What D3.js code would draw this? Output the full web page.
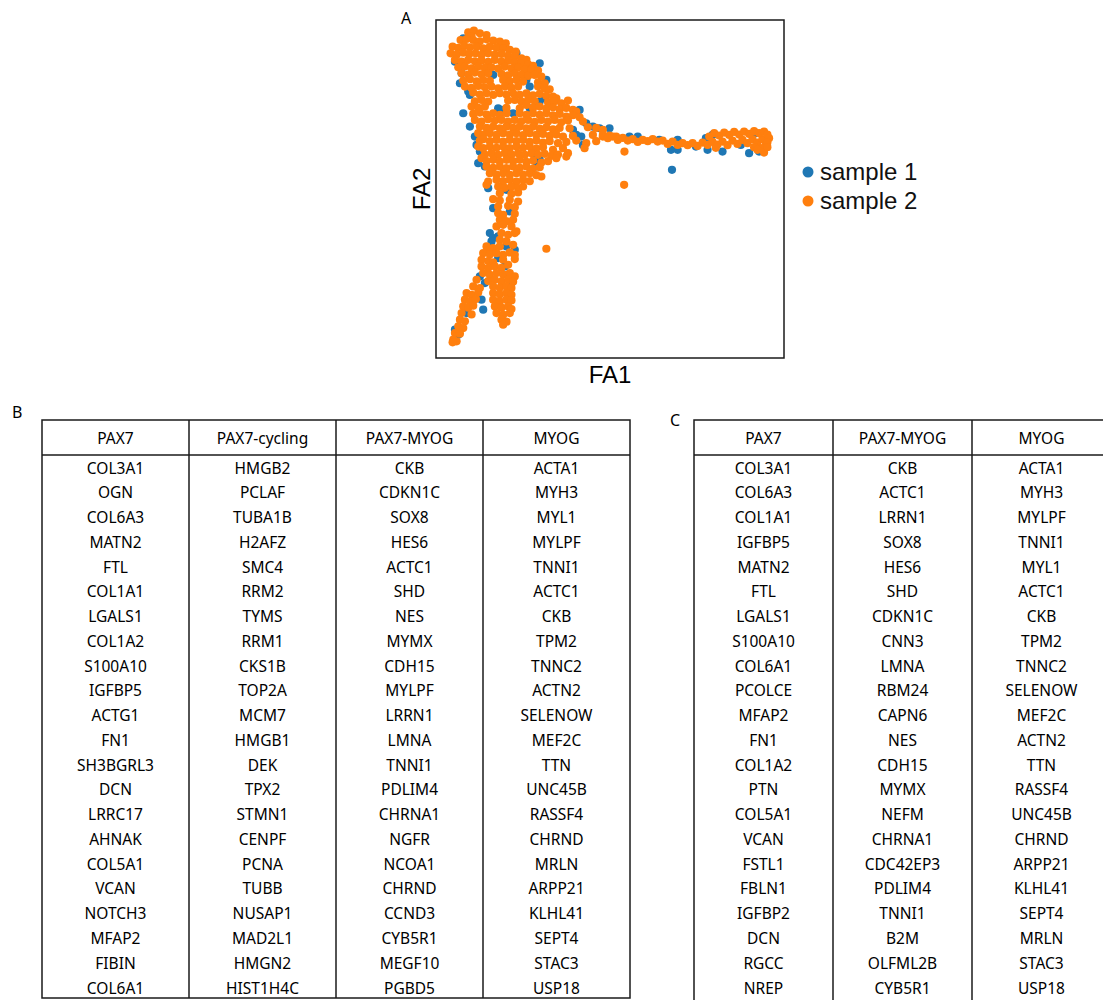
<!DOCTYPE html>
<html>
<head>
<meta charset="utf-8">
<script src="https://cdn.jsdelivr.net/npm/d3@7"></script>
<style>
  html, body { margin: 0; padding: 0; background: #fff; }
  svg { display: block; }
</style>
</head>
<body>
<div id="fig"></div>
<script>
/* FA embedding of two samples (A) + top marker genes per cluster (B, C) */

// ── scatter data: [FA1, FA2] per cell ─────────────────────────────────
const sample1 = [
  [10,94.5],[7.5,87.5],[9.5,84],[9,81],[11.5,78.5],[12,77.5],[19,83.5],[29,82],[30,80],[33,87],
  [35,82],[20.5,73.5],[21.5,73],[33,75.5],[34.5,76.5],[30,73.5],[25,72],[15,60.5],[14.5,57],[16.5,56],
  [33,58],[32,56],[31,60],[17.5,49.5],[23,49],[19,43.5],[24,42.5],[18,36],[19,34.5],[20.5,35],
  [18.5,33.5],[23,32],[25.5,31],[20.5,28.5],[22.5,26],[15,23],[16.5,21],[24.5,21],[15.5,16],[16,13],
  [11,12],[7.5,7],[8.5,5.5],[44,65.5],[43,67],[45,73],[47,69],[49,68],[51,67.5],[54,67.5],
  [45.5,65],[46,62.5],[60,65],[62.5,65],[69,64],[74.5,64],[74.5,61],[80,62],[83,64.5],[85,65.5],
  [88,60.5],[93.5,62.5],[96,60],[99,60.5],[98,66],[83.5,61],[72.5,61],[72.8,55],[13.5,65],[14,62.5],
  [26,90],[22,92.5],[10,72],[12,68]
];

const sample2 = [
  // upper blob
  [11.5,96.3],[13.2,96.8],[15,96],[12.5,95.2],[17,95.5],
  [9.2,94],[11,94.3],[13,94],[15,93.6],[17,94.2],[19,93.8],[21,93.5],[22.8,93],
  [6.8,92],[8.5,91.6],[10.3,92.2],[12,91.8],[14,92],[16,91.5],[18,92],[20,91.7],[22,91.5],[24,91],[25.8,90.5],
  [6.2,90],[8,89.6],[10,90.2],[11.8,89.8],[13.7,90],[15.5,89.5],[17.5,90],[19.5,89.6],[21.5,89.8],[23.5,89.3],[25.5,89],[27.5,88.5],[29,88],
  [7.5,88],[9.5,87.5],[11.5,88],[13.5,87.6],[15.5,87.8],[17.5,87.4],[19.5,88],[21.5,87.5],[23.5,87.8],[25.5,87.2],[27.5,87],[29.5,86.7],[31,86.2],
  [8.5,85.8],[10.5,86],[12.5,85.5],[14.5,86],[16.5,85.6],[18.5,85.8],[20.5,85.4],[22.5,86],[24.5,85.5],[26.5,85.7],[28.5,85.2],[30.5,85],[32.5,84.8],
  [9.5,84],[11.5,83.6],[13.5,84.2],[15.5,83.7],[17.5,84],[21.5,83.8],[23.5,83.4],[25.5,84],[27.5,83.5],[29.5,83.2],[31.5,83.5],[33.5,83],
  [10,81.8],[12,82.2],[14,81.6],[16,82],[18,81.7],[22,82],[24,81.6],[26,82],[28,81.5],[32.5,81.3],[34.5,81],
  [10.5,80],[12.5,79.6],[14.5,80.2],[16.5,79.8],[18.5,80],[20.5,79.5],[22.5,80],[24.5,79.6],[26.5,80],[32.5,80],[34.5,79.5],[36,79.2],
  [13,78.2],[15,77.6],[17,78],[19,77.5],[21,78],[23,77.6],[25,78],[27,77.5],[29,78],[31,77.4],[33,77.8],[35,77.2],[37,77],[38,76.5],
  [13.5,75.6],[15.5,76],[17.5,75.5],[23.5,75.8],[25.5,76],[27.5,75.5],[29.5,76],[31.5,75.6],[35.5,75.3],[37.5,75.6],[39.5,75],[41.5,75.8],
  [12.5,74],[14.5,73.6],[16.5,74],[23,73.6],[27,73.5],[29,74.5],[31,73.6],[33,74],[35,73.4],[37,73.8],[39,73.2],[41,73.6],[43,73],[44,72.5],
  [13,71.8],[15,72.2],[17,71.6],[19,72],[21,71.5],[23,72],[27,72],[29,71.5],[31,72],[33,71.5],[35,72],[37,71.4],[39,71.8],[41,71],[43,71.4],[45,70.8],
  [13.5,70],[15.5,69.5],[17.5,70.2],[19.5,69.8],[21.5,70],[23.5,69.5],[25.5,70],[27.5,69.6],[29.5,70],[31.5,69.4],[33.5,70],[35.5,69.5],[37.5,70],[39.5,69.3],[41.5,69.8],[46,69.5],
  [15,68],[17,67.6],[19,68],[21,67.5],[23,68],[25,67.6],[27,68],[29,67.5],[31,68],[33,67.4],[35,67.8],[37,67.2],[39,67.6],[42,67.5],[47.5,67.8],[50,67.6],[52,67],
  [14.5,66],[16,65.6],[18,66],[20,65.5],[22,66],[24,65.6],[26,66],[28,65.4],[30,66],[32,65.5],[34,65.8],[36,65.2],[38,65.6],[40,65],[43,65.2],[49,65.5],[52,65],[54,65.3],[56,65],
  [15,63.8],[16,64.2],[18,63.6],[20,64],[22,63.5],[24,64],[26,63.6],[28,64],[30,63.4],[32,63.8],[34,63.2],[36,63.6],[38.5,63],[41,63.4],[44,63.8],[47,63],[50,63.6],
  [14.5,62],[16,61.5],[18,62],[20,61.6],[22,62],[24,61.5],[26,62],[28,61.6],[30,62],[32,61.4],[34,61.8],[37,61],[40,61.5],[41,59],[46.5,61.5],
  [16.5,59.6],[18.5,60],[20.5,59.5],[22.5,60],[24.5,59.6],[26.5,60],[28.5,59.5],[30.5,60],[32.5,59.5],[34.5,59.8],[36.5,59.2],[38.5,59.6],[41.5,60],[38,58.5],
  [15.5,58.5],[17,57.6],[19,58],[21,57.5],[23,58],[25,57.6],[27,58],[29,57.4],[31,57.8],[33.5,57.2],[35.5,57.6],
  [17,56],[19,55.6],[21,56],[23,55.5],[25,56],[27,55.6],[29,56],[31,55.4],[33,55.8],
  [18,54],[20,53.6],[22,54],[24,53.5],[26,54],[28,53.6],[30,54],[32,53.4],[33.5,53],
  [17.5,51.5],[20,52],[22,51.6],[24,52],[26,51.5],[28,52],[30,51.6],[17,50.5],
  [20.5,50],[22.5,49.6],[24.5,50],[26.5,49.5],[28,50],
  // stem
  [21,48],[24.5,47.8],[26.5,48.2],
  [19,46.2],[21,45.8],[24,46],[26.5,45.5],
  [20.5,44],[23.5,44.2],[25.5,43.8],
  [20.5,42],[22,41.5],[25.5,41.8],
  [21,40],[23,39.6],[25,40],[22,38.5],
  [20,38],[24.5,38],[26,36.5],
  [21.5,36],[23.5,35.5],[25.5,36],
  [21,34],[23,33.5],
  // lower blob
  [17,32],[19,31.5],[21,32],[25,32.5],[18,31],
  [16,30],[18,29.6],[20,30],[22,29.5],[24,30.2],[25.5,29.5],
  [15.5,28],[17.5,27.6],[19,27.2],[22,28],[25.5,28.2],
  [15.5,26],[17.5,25.5],[19.5,26],[21.5,25.6],[23.5,26.5],
  [16,24],[18,23.5],[20,24],[22,23.6],[24,24],[25.5,23],
  [14,22],[17.5,21.6],[19.5,22],[21.5,21.5],[23.5,22],[25,21.4],
  [13,20],[15,19.5],[19,20],[21,19.6],[23,20],[24.5,19.5],
  [11,18],[12.5,17.5],[14.5,18.2],[19,18],[21,17.6],[23,18],[24.5,17.5],
  [10.5,16],[12,15.5],[13.8,16.2],[19,16],[21,15.5],[23,16],[24.5,15.8],
  [10,14],[11.5,13.6],[13,14.2],[19.5,14],[21.5,13.6],[23.5,14],[24.5,13.2],
  [9.5,12],[12.5,11.6],[20,12],[22,11.5],[24,12],
  [9,10],[10.5,9.5],[21.5,10],[23,9.4],[22,8.5],
  [8.5,8],[10,7.5],
  [7.5,6],[9,5.8],
  [7,4],[8,3.5],[6.8,3.2],
  // right arm
  [52,65.5],[53.5,64.5],[55,65],[56.5,64],[58,64.6],[59.5,63.8],[61,64.2],[62.5,63.4],[64,64],[65.5,63.6],
  [67,64.2],[68.5,63.5],[70,63.8],[71.5,62.8],[73,63.5],[74.5,62.5],[76,63],[77.5,62.4],[79,63],[80.5,62.2],
  [82,63.2],[83.5,62.5],[85,63.4],[86.5,62.6],[88,63.5],[89.5,62.4],[91,63.8],[92.5,62.8],[94,64],[95.5,63],
  [97,64.2],[98.5,63.2],[100,64.2],[101,62.6],[99,61.4],[97.5,61.8],[86,61.6],[58.5,60.5],
  [84,65],[85.5,66],[87,65.3],[88.5,66.2],[90,65.5],[91.5,66.4],[93,65.6],[94.5,66.5],[96,65.8],[97.5,66.6],
  [99,66],[100.5,66.5],[101.5,65.6],[102,64.5],[101.5,63.2],[100,61.5],[98.5,61],[100.5,60.2],[101.5,61.8],
  // stray cells
  [58.4,50.5],[35,31.3]
];

const seriesNames  = ['sample 1', 'sample 2'];
const seriesColors = ['#1f77b4', '#ff7f0e'];

// ── table B: top genes per cluster, sample 1 ──────────────────────────
const colsB = ['PAX7', 'PAX7-cycling', 'PAX7-MYOG', 'MYOG'];
const pax7B = ['COL3A1','OGN','COL6A3','MATN2','FTL','COL1A1','LGALS1','COL1A2','S100A10','IGFBP5','ACTG1',
  'FN1','SH3BGRL3','DCN','LRRC17','AHNAK','COL5A1','VCAN','NOTCH3','MFAP2','FIBIN','COL6A1'];
const cyclingB = ['HMGB2','PCLAF','TUBA1B','H2AFZ','SMC4','RRM2','TYMS','RRM1','CKS1B','TOP2A','MCM7',
  'HMGB1','DEK','TPX2','STMN1','CENPF','PCNA','TUBB','NUSAP1','MAD2L1','HMGN2','HIST1H4C'];
const pax7myogB = ['CKB','CDKN1C','SOX8','HES6','ACTC1','SHD','NES','MYMX','CDH15','MYLPF','LRRN1',
  'LMNA','TNNI1','PDLIM4','CHRNA1','NGFR','NCOA1','CHRND','CCND3','CYB5R1','MEGF10','PGBD5'];
const myogB = ['ACTA1','MYH3','MYL1','MYLPF','TNNI1','ACTC1','CKB','TPM2','TNNC2','ACTN2','SELENOW',
  'MEF2C','TTN','UNC45B','RASSF4','CHRND','MRLN','ARPP21','KLHL41','SEPT4','STAC3','USP18'];

// ── table C: top genes per cluster, sample 2 ──────────────────────────
const colsC = ['PAX7', 'PAX7-MYOG', 'MYOG'];
const pax7C = ['COL3A1','COL6A3','COL1A1','IGFBP5','MATN2','FTL','LGALS1','S100A10','COL6A1','PCOLCE','MFAP2',
  'FN1','COL1A2','PTN','COL5A1','VCAN','FSTL1','FBLN1','IGFBP2','DCN','RGCC','NREP'];
const pax7myogC = ['CKB','ACTC1','LRRN1','SOX8','HES6','SHD','CDKN1C','CNN3','LMNA','RBM24','CAPN6',
  'NES','CDH15','MYMX','NEFM','CHRNA1','CDC42EP3','PDLIM4','TNNI1','B2M','OLFML2B','CYB5R1'];
const myogC = ['ACTA1','MYH3','MYLPF','TNNI1','MYL1','ACTC1','CKB','TPM2','TNNC2','SELENOW','MEF2C',
  'ACTN2','TTN','RASSF4','UNC45B','CHRND','ARPP21','KLHL41','SEPT4','MRLN','STAC3','USP18'];

// ── layout ─────────────────────────────────────────────────────────────
const W = 1103, H = 1000;
const LABEL_FONT = '"Liberation Sans", Arial, sans-serif';
const TABLE_FONT = '"Noto Sans", "Open Sans", sans-serif';

const svg = d3.select('#fig').append('svg')
  .attr('width', W).attr('height', H);

/* ── A: scatter ─────────────────────────────────────────────── */
const box = { x0: 436, x1: 784, y0: 20, y1: 358 };

const x = d3.scaleLinear().domain([1.8, 106.5]).range([box.x0, box.x1]);
const y = d3.scaleLinear().domain([-1.5, 100]).range([box.y1, box.y0]);

const plotG = svg.append('g');

[sample1, sample2].forEach((pts, i) => {
  plotG.append('g').selectAll('circle')
    .data(pts)
    .join('circle')
    .attr('cx', d => x(d[0]))
    .attr('cy', d => y(d[1]))
    .attr('r', 4.1)
    .attr('fill', seriesColors[i]);
});

svg.append('rect')
  .attr('x', box.x0).attr('y', box.y0)
  .attr('width', box.x1 - box.x0).attr('height', box.y1 - box.y0)
  .attr('fill', 'none').attr('stroke', '#1a1a1a').attr('stroke-width', 1.5);

svg.append('text')
  .attr('x', (box.x0 + box.x1) / 2).attr('y', 383)
  .attr('text-anchor', 'middle')
  .attr('font-family', LABEL_FONT).attr('font-size', 24)
  .text('FA1');

svg.append('text')
  .attr('transform', `translate(430,${(box.y0 + box.y1) / 2}) rotate(-90)`)
  .attr('text-anchor', 'middle')
  .attr('font-family', LABEL_FONT).attr('font-size', 24)
  .text('FA2');

// legend
const legend = svg.append('g').attr('transform', 'translate(808,172)');
seriesNames.forEach((name, i) => {
  const g = legend.append('g').attr('transform', `translate(0,${i * 29})`);
  g.append('circle').attr('r', 5.5).attr('fill', seriesColors[i]);
  g.append('text')
    .attr('x', 12).attr('y', 8)
    .attr('font-family', LABEL_FONT).attr('font-size', 24)
    .attr('fill', '#111')
    .text(name);
});

/* ── panel letters ──────────────────────────────────────────── */
[['A', 401, 24], ['B', 12, 418], ['C', 670, 426]].forEach(([t, lx, ly]) => {
  svg.append('text')
    .attr('x', lx).attr('y', ly)
    .attr('font-family', TABLE_FONT).attr('font-size', 16)
    .text(t);
});

/* ── B, C: gene tables ──────────────────────────────────────── */
const HEAD_H = 35;
const ROW_FIRST = 468, ROW_LAST = 988;

function drawTable(headers, columns, left, right, top, bottom) {
  const g = svg.append('g');
  const nRows = columns[0].length;

  const cx = d3.scaleBand().domain(headers).range([left, right]);
  const ry = d3.scaleLinear().domain([0, nRows - 1]).range([ROW_FIRST, ROW_LAST]);

  // frame + lines
  g.append('rect')
    .attr('x', left).attr('y', top)
    .attr('width', right - left).attr('height', bottom - top)
    .attr('fill', 'none').attr('stroke', '#1a1a1a').attr('stroke-width', 1.5);
  g.append('line')
    .attr('x1', left).attr('x2', right)
    .attr('y1', top + HEAD_H).attr('y2', top + HEAD_H)
    .attr('stroke', '#1a1a1a').attr('stroke-width', 1.5);
  g.selectAll('line.col')
    .data(headers.slice(1))
    .join('line').attr('class', 'col')
    .attr('x1', d => cx(d)).attr('x2', d => cx(d))
    .attr('y1', top).attr('y2', bottom)
    .attr('stroke', '#1a1a1a').attr('stroke-width', 1.5);

  // header text
  g.selectAll('text.head')
    .data(headers)
    .join('text').attr('class', 'head')
    .attr('x', d => cx(d) + cx.bandwidth() / 2)
    .attr('y', top + HEAD_H / 2 + 6)
    .attr('text-anchor', 'middle')
    .attr('font-family', TABLE_FONT).attr('font-size', 15.5)
    .attr('fill', '#000')
    .text(d => d);

  // gene cells
  headers.forEach((h, ci) => {
    g.append('g').selectAll('text')
      .data(columns[ci])
      .join('text')
      .attr('x', cx(h) + cx.bandwidth() / 2)
      .attr('y', (d, i) => ry(i) + 5.5)
      .attr('text-anchor', 'middle')
      .attr('font-family', TABLE_FONT).attr('font-size', 15.5)
      .attr('fill', '#000')
      .text(d => d);
  });
}

drawTable(colsB, [pax7B, cyclingB, pax7myogB, myogB], 42, 630, 420, 998);
drawTable(colsC, [pax7C, pax7myogC, myogC], 694, 1111, 420, 1008);
</script>
</body>
</html>
